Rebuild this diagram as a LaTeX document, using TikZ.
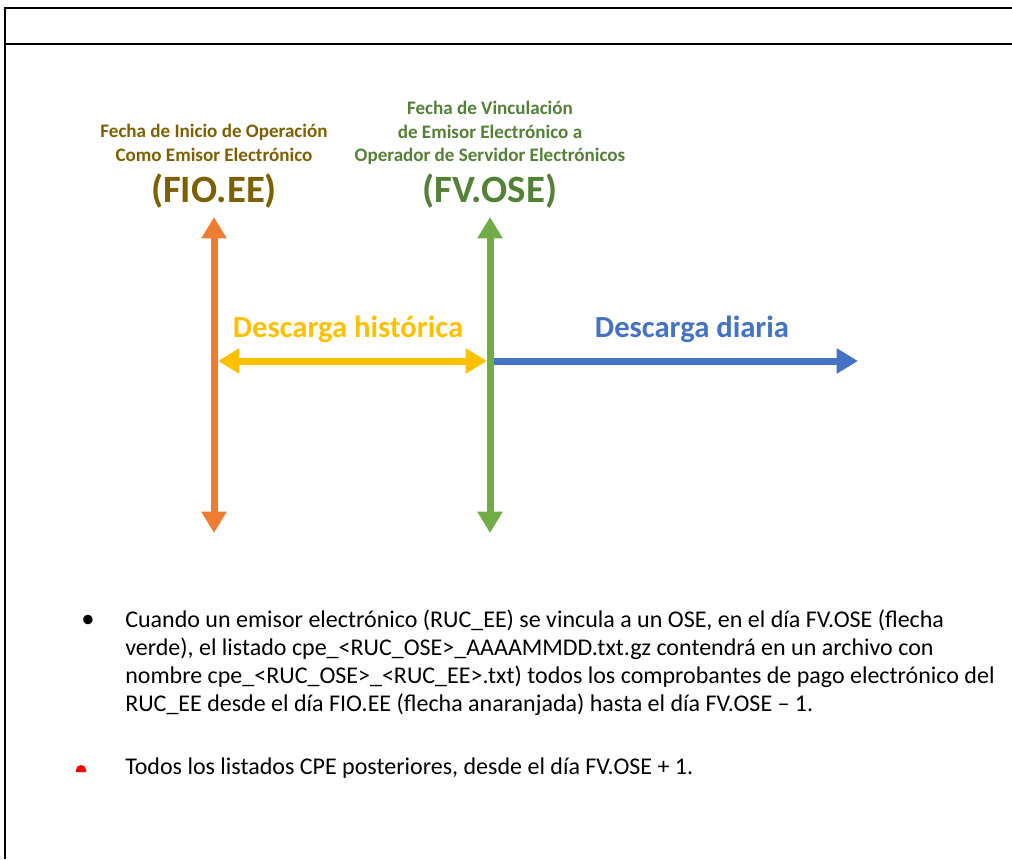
\documentclass[tikz,border=0pt]{standalone}
\usepackage{fontspec}
\setmainfont{Carlito}
\usetikzlibrary{arrows.meta}

\definecolor{fioText}{HTML}{7F6000}
\definecolor{fvText}{HTML}{538135}
\definecolor{fioLine}{HTML}{ED7D31}
\definecolor{fvLine}{HTML}{70AD47}
\definecolor{histLine}{HTML}{FFC000}
\definecolor{diaLine}{HTML}{4472C4}

\begin{document}
\begin{tikzpicture}[x=0.75pt, y=-0.75pt,
  thickarrow/.style={line width=5.25pt, {Triangle[width=18pt,length=16pt]}-{Triangle[width=18pt,length=16pt]}},
  onearrow/.style={line width=5.25pt, -{Triangle[width=18pt,length=16pt]}},
  smalllabel/.style={align=center, inner sep=0pt, font=\bfseries\fontsize{14.3}{17.6}\selectfont},
  biglabel/.style={inner sep=0pt, font=\bfseries\fontsize{29}{34}\selectfont},
  spanlabel/.style={inner sep=0pt, font=\bfseries\fontsize{23}{27}\selectfont},
  bodytext/.style={align=left, inner sep=0pt, font=\fontsize{18}{21}\selectfont}]
  \useasboundingbox (0,0) rectangle (1012,859);

  % Draw the frame of the table
  \draw[line width=1.5pt] (1012,8) -- (5,8) -- (5,859);
  \draw[line width=1.5pt] (5,44) -- (1012,44);

  \coordinate (fioTop) at (214,217);
  \coordinate (fioBot) at (214,533);
  \coordinate (fvTop) at (490,217);
  \coordinate (fvBot) at (490,533);
  \coordinate (histL) at (218,361);
  \coordinate (histR) at (487,361);
  \coordinate (diaStart) at (490,361);
  \coordinate (diaEnd) at (858,361);

  % Horizontal arrows
  \draw[thickarrow, histLine] (histL) -- (histR);
  \draw[onearrow, diaLine] (diaStart) -- (diaEnd);

  % Vertical arrows
  \draw[thickarrow, fioLine] (fioBot) -- (fioTop);
  \draw[thickarrow, fvLine] (fvBot) -- (fvTop);

  % Labels above the arrows
  \node[smalllabel, fioText] (fioName) at (214,143) {Fecha de Inicio de Operación\\Como Emisor Electrónico};
  \node[biglabel, fioText] (fioCode) at (214,191) {(FIO.EE)};
  \node[smalllabel, fvText] (fvName) at (490,133) {Fecha de Vinculación\\de Emisor Electrónico a\\Operador de Servidor Electrónicos};
  \node[biglabel, fvText] (fvCode) at (490,191) {(FV.OSE)};

  \node[spanlabel, histLine] (histName) at (348,329) {Descarga histórica};
  \node[spanlabel, diaLine] (diaName) at (692,329) {Descarga diaria};

  % Bullet list
  \node[inner sep=0pt, font=\fontsize{20}{21}\selectfont] (dotOne) at (88,621) {•};
  \node[bodytext, anchor=north west] (textOne) at (125,610) {Cuando un emisor electrónico (RUC\_EE) se vincula a un OSE, en el día FV.OSE (flecha\\
    verde), el listado cpe\_<RUC\_OSE>\_AAAAMMDD.txt.gz contendrá en un archivo con\\
    nombre cpe\_<RUC\_OSE>\_<RUC\_EE>.txt) todos los comprobantes de pago electrónico del\\
    RUC\_EE desde el día FIO.EE (flecha anaranjada) hasta el día FV.OSE – 1.};

  \fill[red] (76,772) -- (76,770) arc[start angle=180, end angle=360, radius=5] -- (86,772) -- cycle;
  \node[bodytext, anchor=north west] (textTwo) at (125,758) {Todos los listados CPE posteriores, desde el día FV.OSE + 1.};
\end{tikzpicture}
\end{document}
